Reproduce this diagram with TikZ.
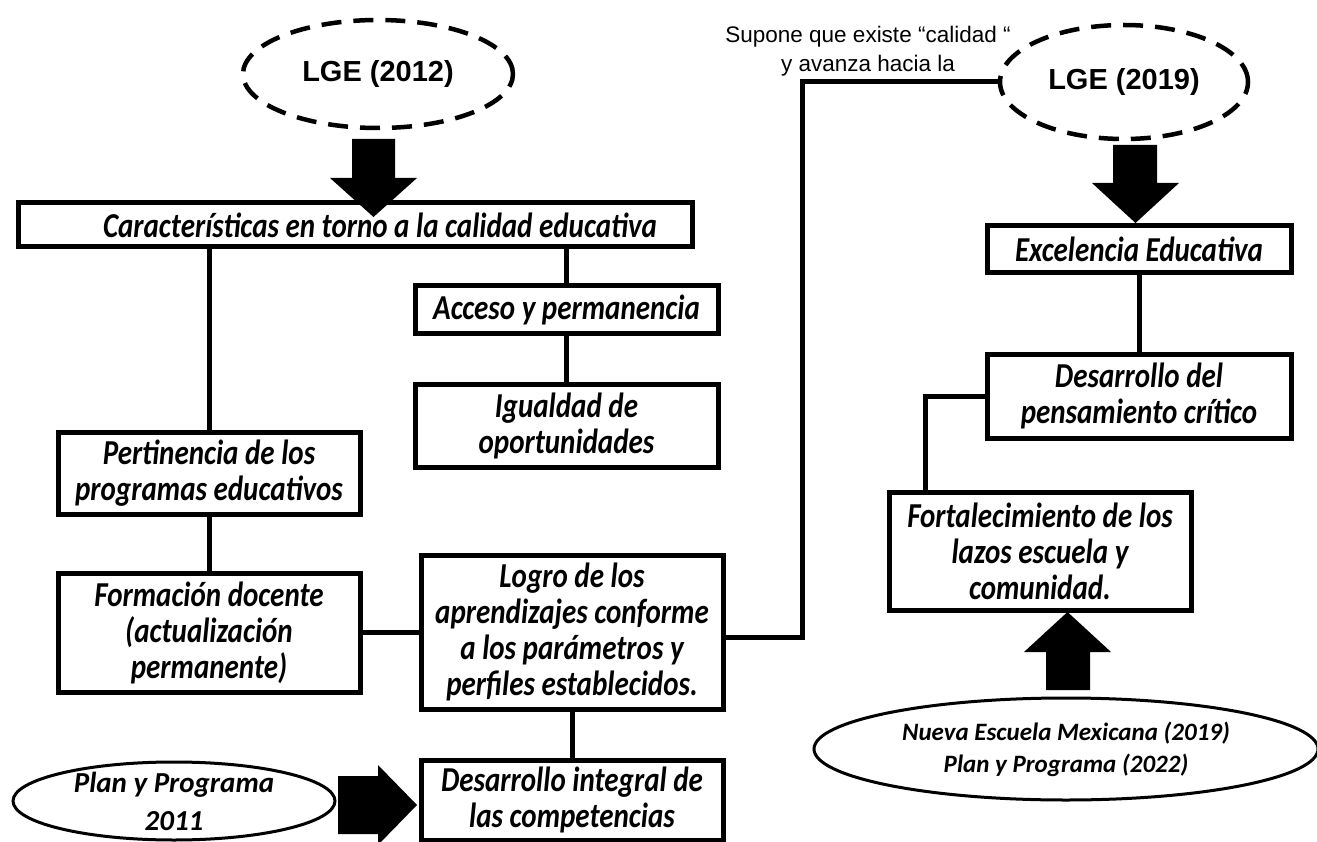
\documentclass[tikz,border=0pt]{standalone}
\usepackage{fontspec}
\usetikzlibrary{calc,shapes.geometric}
\newfontfamily\calibfont{Carlito}
\newfontfamily\boxfont{Carlito}[FakeStretch=0.83]
\newfontfamily\arialfont{Liberation Sans}
\tikzset{
  box/.style={draw, line width=5pt, fill=white, align=center, inner sep=0pt,
    font=\boxfont\bfseries\itshape\fontsize{35}{36}\selectfont},
  link/.style={line width=5pt},
  lawoval/.style={ellipse, draw, line width=4.5pt, dash pattern=on 20pt off 12pt,
    inner sep=0pt, font=\arialfont\bfseries\fontsize{29}{34}\selectfont},
  planoval/.style={ellipse, draw, line width=3pt, inner sep=0pt},
  ovaltext/.style={align=center, font=\calibfont\bfseries\itshape\fontsize{#1}{#1}\selectfont},
  bigarrow/.style={fill=black},
}
\begin{document}
\begin{tikzpicture}[x=1pt, y=-1pt]
\useasboundingbox (0,0) rectangle (1317,842);

% laws at the top
\node[lawoval, minimum width=270, minimum height=108] (lge12) at (378,74) {LGE (2012)};
\node[lawoval, minimum width=248, minimum height=114] (lge19) at (1124,82) {\raisebox{-6pt}{LGE (2019)}};

% left branch: quality
\node[box, minimum width=674, minimum height=44] (calidad) at (355,225)
  {\hspace*{50pt}Características en torno a la calidad educativa};
\node[box, minimum width=303, minimum height=47] (acceso) at (566.5,309.5) {Acceso y permanencia};
\node[box, minimum width=303, minimum height=83] (igualdad) at (566.5,425.5) {Igualdad de\\oportunidades};
\node[box, minimum width=302, minimum height=82] (pertinencia) at (209,473) {Pertinencia de los\\programas educativos};
\node[box, minimum width=302, minimum height=119] (formacion) at (209,632.5) {Formación docente\\(actualización\\permanente)};
\node[box, minimum width=302, minimum height=154] (logro) at (572,632) {Logro de los\\aprendizajes conforme\\a los parámetros y\\perfiles establecidos.};
\node[box, minimum width=302, minimum height=80] (integral) at (572,800) {Desarrollo integral de\\las competencias};
\node[planoval, minimum width=322, minimum height=78,
  label={[ovaltext=29, yshift=0pt]center:Plan y Programa\\[9pt]2011}] (plan11) at (174,801) {};

% right branch: excellence
\node[box, minimum width=304, minimum height=47] (excelencia) at (1139,249.5) {Excelencia Educativa};
\node[box, minimum width=304, minimum height=84] (critico) at (1139,396) {Desarrollo del\\pensamiento crítico};
\node[box, minimum width=302, minimum height=118] (lazos) at (1040,551) {Fortalecimiento de los\\lazos escuela y\\comunidad.};
\node[planoval, minimum width=504, minimum height=102,
  label={[ovaltext=25]center:Nueva Escuela Mexicana (2019)\\[7pt]Plan y Programa (2022)}] (nem) at (1066,749) {};

\node[align=center, font=\arialfont\fontsize{22.5}{29}\selectfont] (supone) at (868,51)
  {Supone que existe “calidad “\\y avanza hacia la};

% connectors
\draw[link] (calidad.south -| pertinencia.north) -- (pertinencia.north);
\draw[link] (calidad.south -| acceso.north) -- (acceso.north);
\draw[link] (acceso) -- (igualdad);
\draw[link] (pertinencia) -- (formacion);
\draw[link] (formacion.east) -- (logro.west |- formacion.east);
\draw[link] (logro) -- (integral);
\draw[link] ([yshift=-5pt]logro.east) -- ++(77,0) |- (lge19.west);
\draw[link] (excelencia) -- (critico);
\draw[link] (critico.west) -| ($(lazos.north west)+(39,0)$);

% block arrows
\fill[bigarrow] (352,139) -- (395,139) -- (395,178) -- (417,178) -- (373.5,217)
  -- (330,178) -- (352,178) -- cycle;
\fill[bigarrow] (1113,145) -- (1157,145) -- (1157,183) -- (1179,183) -- (1135.5,223)
  -- (1092,183) -- (1113,183) -- cycle;
\fill[bigarrow] (1046,690) -- (1090,690) -- (1090,652) -- (1111,652) -- (1067.5,612)
  -- (1024,652) -- (1046,652) -- cycle;
\fill[bigarrow] (338,776) -- (378,776) -- (378,765) -- (417,805) -- (378,845)
  -- (378,834) -- (338,834) -- cycle;
\end{tikzpicture}
\end{document}
